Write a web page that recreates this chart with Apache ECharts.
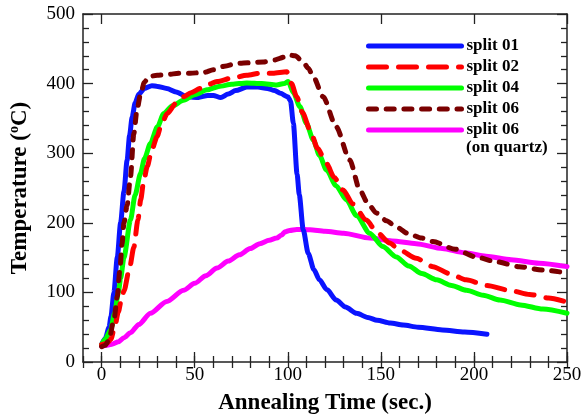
<!DOCTYPE html>
<html>
<head>
<meta charset="utf-8">
<script src="https://cdn.jsdelivr.net/npm/echarts@6/dist/echarts.min.js"></script>
<style>
  html, body { margin: 0; padding: 0; background: #fff; }
  #chart { width: 584px; height: 419px; }
</style>
</head>
<body>
<div id="chart"></div>
<script>
// Annealing temperature profiles: [time (s), temperature (°C)]
const split01 = [[0,25],[2,34],[4,50],[5,65],[6.6,100],[8.4,150],[10.2,200],[12,245],[13.7,290],[15,325],[16.4,352],[18,372],[20,385],[23,393],[27,397],[30,396],[35,393],[40,388],[46,381],[52,380],[57,383],[60,383],[64,380],[68,385],[72,390],[78,395],[84,395],[89,393],[93,390],[96,386],[100,381],[101.5,375],[103,343],[105,270],[106.2,240],[108.3,190],[111,156],[114,133],[117,118],[121,104],[126,89],[131,79],[137,70],[143,64],[148,60],[155,56],[162,53],[170,50],[183,46],[195,43],[207,40]];
const split02 = [[0,25],[3,27],[5,33],[7,50],[9,72],[10.5,88],[12,102],[15,135],[17.3,165],[19.5,204],[21,233],[22.5,258],[24.5,281],[27,305],[29.8,324],[32,340],[35.2,357],[40,372],[44,381],[48,387],[53,393],[56.6,398],[62,403],[70,408],[78,412],[85,415],[92,415],[99.4,417],[102,400],[104.8,381],[108,358],[112,333],[116,307],[120.8,285],[125,265],[129.7,247],[135,227],[142.2,204],[148,186],[154.7,171],[160,161],[169,149],[178,137],[187,127],[195.8,118],[207,110],[219,103],[230,97],[240,92],[250,86]];
const split04 = [[0,25],[2,33],[4.8,46],[7,70],[9,100],[10.2,120],[12,150],[15.5,204],[18,240],[20.9,271],[23,292],[26.2,314],[30,338],[33.4,357],[38,368],[44,376],[50,384],[56.6,391],[63,396],[70,399],[78,401],[86,400],[94,398],[98,400],[100.3,403],[103,387],[106.5,367],[110,343],[113.7,319],[117,297],[120.8,276],[126,253],[131.5,233],[137,210],[144,185],[151,166],[158.3,151],[165,138],[172,127],[180,118],[188,110],[196,103],[205,96],[214,89],[225,82],[237,76],[250,70]];
const split06 = [[0,22],[2,24],[3.9,32],[6.6,60],[8.4,94],[9.8,132],[11,170],[12,200],[13.7,225],[15.5,266],[17.3,328],[19,362],[20.9,385],[23,402],[25.3,410],[29.8,412],[35,413],[42,415],[47.6,415],[55,416],[60,420],[66,425],[72.6,429],[80,430],[86.9,431],[93,434],[98,438],[101,441],[104,440],[108.3,431],[111,422],[113.7,410],[119,381],[126,338],[133.3,290],[138.7,247],[143,228],[147.6,214],[153,203],[158.3,194],[165,184],[172,178],[178,173],[190,162],[201,151],[212,144],[224.3,137],[237,132],[250,128]];
const split06Quartz = [[0,23],[3,24],[6,26],[9,29],[12,35],[15.5,42],[20,54],[26.2,70],[35,87],[44,103],[50,113],[56,124],[62,135],[68,145],[74,154],[79.8,163],[85,170],[90,175],[94,178],[96.5,182],[98.5,187],[101,189],[104.8,190.5],[112,190],[120,188],[130,185],[144,178],[156,174],[169,170],[183,163],[195,157],[206.5,152],[220,147],[235,142],[250,137]];

const seriesNames = ['split 01', 'split 02', 'split 04', 'split 06', 'split 06 (on quartz)'];
const legendLabels = ['split 01', 'split 02', 'split 04', 'split 06', 'split 06'];
const quartzNote = '(on quartz)';

const xMajorTicks = [0, 50, 100, 150, 200, 250];
const xMin = -10, xMax = 250, xMinorStep = 10;
const yMin = 0, yMax = 500, yMajorStep = 100;

const SERIF = '"Liberation Serif", "Times New Roman", serif';
const AXIS_COLOR = '#222';

const chart = echarts.init(document.getElementById('chart'), null, { renderer: 'canvas' });

function xAxisPair(position, withLabels) {
  const major = {
    type: 'value', position: position, min: xMin, max: xMax,
    axisLine: { show: true, onZero: false, lineStyle: { color: AXIS_COLOR, width: 1.5 } },
    axisTick: { show: true, inside: true, length: 10, customValues: xMajorTicks,
                lineStyle: { color: AXIS_COLOR, width: 1.3 } },
    axisLabel: withLabels
      ? { show: true, customValues: xMajorTicks, margin: 4, color: '#000', fontFamily: SERIF, fontSize: 19 }
      : { show: false },
    splitLine: { show: false }
  };
  const minor = {
    type: 'value', position: position, min: xMin, max: xMax, interval: xMinorStep,
    axisLine: { show: false },
    axisTick: { show: true, inside: true, length: 6, lineStyle: { color: AXIS_COLOR, width: 1.3 } },
    axisLabel: { show: false },
    splitLine: { show: false }
  };
  return [major, minor];
}

const xAxes = xAxisPair('bottom', true).concat(xAxisPair('top', false));
Object.assign(xAxes[0], {
  name: 'Annealing Time (sec.)', nameLocation: 'middle', nameGap: 30,
  nameTextStyle: { fontFamily: SERIF, fontWeight: 'bold', fontSize: 23, color: '#000' }
});

function yAxis(position, withLabels) {
  return {
    type: 'value', position: position, min: yMin, max: yMax, interval: yMajorStep,
    axisLine: { show: true, onZero: false, lineStyle: { color: AXIS_COLOR, width: 1.5 } },
    axisTick: { show: true, inside: true, length: 10, lineStyle: { color: AXIS_COLOR, width: 1.3 } },
    minorTick: { show: true, splitNumber: 5, length: 6, lineStyle: { color: AXIS_COLOR, width: 1.3 } },
    axisLabel: withLabels
      ? { show: true, margin: 8, color: '#000', fontFamily: SERIF, fontSize: 19 }
      : { show: false },
    splitLine: { show: false },
    minorSplitLine: { show: false }
  };
}
const yAxes = [yAxis('left', true), yAxis('right', false)];
Object.assign(yAxes[0], {
  name: '{t|Temperature (}{s|o}{t|C)}', nameLocation: 'middle', nameGap: 50,
  nameTextStyle: {
    color: '#000',
    rich: {
      t: { fontFamily: SERIF, fontWeight: 'bold', fontSize: 23, color: '#000', lineHeight: 26 },
      s: { fontFamily: SERIF, fontWeight: 'bold', fontSize: 14, color: '#000', lineHeight: 26, verticalAlign: 'top' }
    }
  }
});

const styles = [
  { color: '#0a14ff', type: 'solid' },
  { color: '#ff0000', type: [18, 12] },
  { color: '#00ff00', type: 'solid' },
  { color: '#7a0000', type: [8, 9.7] },
  { color: '#ff00ff', type: 'solid' }
];
const datasets = [split01, split02, split04, split06, split06Quartz];
// draw order: later series on top
const drawOrder = [4, 0, 2, 1, 3];

const series = drawOrder.map(function (i) {
  return {
    name: seriesNames[i], type: 'line', xAxisIndex: 0, yAxisIndex: 0,
    data: datasets[i], showSymbol: false, symbol: 'none',
    smooth: 0.25, smoothMonotone: 'x',
    color: styles[i].color,
    lineStyle: { color: styles[i].color, width: 5, type: styles[i].type, cap: 'round', join: 'round' },
    z: 2 + drawOrder.indexOf(i),
    animation: false
  };
});

chart.setOption({
  animation: false,
  backgroundColor: '#fff',
  grid: { left: 83, right: 17, top: 14, bottom: 57, containLabel: false, outerBoundsMode: 'none' },
  xAxis: xAxes,
  yAxis: yAxes,
  legend: {
    orient: 'vertical', left: 366, top: 35.5, padding: 0, itemGap: 0,
    itemWidth: 93, itemHeight: 10,
    data: seriesNames,
    formatter: function (name) { return legendLabels[seriesNames.indexOf(name)]; },
    lineStyle: { width: 5 },
    // keys are plain line samples, no marker in the middle
    itemStyle: { opacity: 0, borderWidth: 0 },
    textStyle: { fontFamily: SERIF, fontWeight: 'bold', fontSize: 17, color: '#000', lineHeight: 21 },
    selectedMode: false
  },
  graphic: [{
    type: 'text', left: 466, top: 139,
    style: { text: quartzNote, fill: '#000', font: 'bold 17px "Liberation Serif", serif' }
  }],
  series: series
});
</script>
</body>
</html>
